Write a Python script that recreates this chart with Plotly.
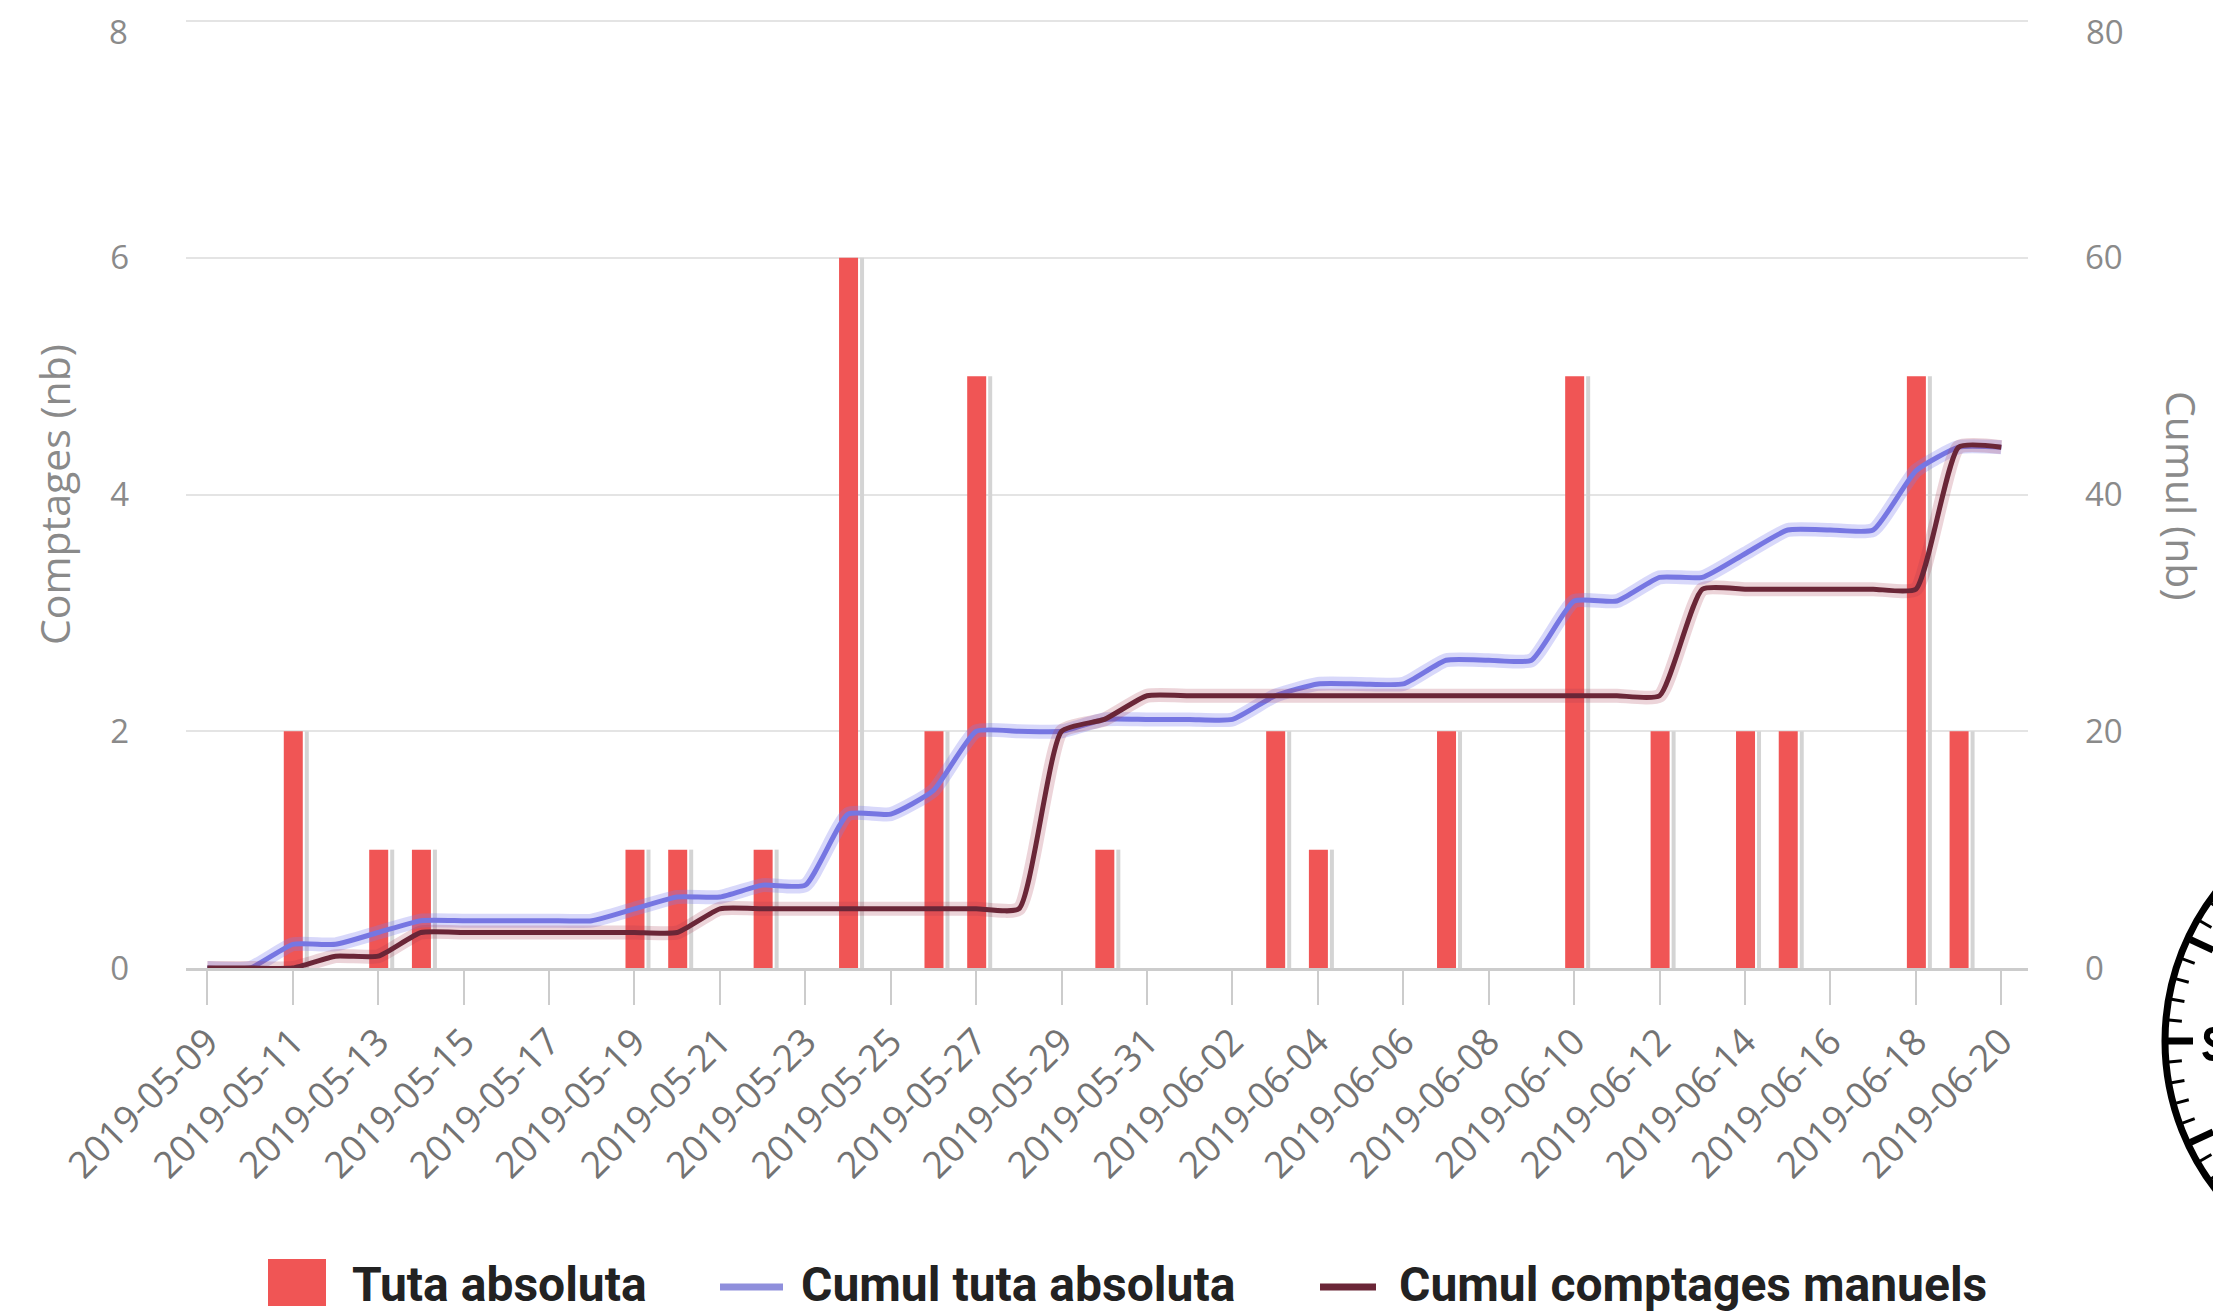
import math
import plotly.graph_objects as go

# ---- data ----
bar_dates = ['2019-05-11', '2019-05-13', '2019-05-14', '2019-05-19', '2019-05-20',
             '2019-05-22', '2019-05-24', '2019-05-26', '2019-05-27', '2019-05-30',
             '2019-06-03', '2019-06-04', '2019-06-07', '2019-06-10', '2019-06-12',
             '2019-06-14', '2019-06-15', '2019-06-18', '2019-06-19']
tuta_counts = [2, 1, 1, 1, 1, 1, 6, 2, 5, 1, 2, 1, 2, 5, 2, 2, 2, 5, 2]

day_dates = ['2019-05-09', '2019-05-10', '2019-05-11', '2019-05-12', '2019-05-13',
             '2019-05-14', '2019-05-15', '2019-05-16', '2019-05-17', '2019-05-18',
             '2019-05-19', '2019-05-20', '2019-05-21', '2019-05-22', '2019-05-23',
             '2019-05-24', '2019-05-25', '2019-05-26', '2019-05-27', '2019-05-28',
             '2019-05-29', '2019-05-30', '2019-05-31', '2019-06-01', '2019-06-02',
             '2019-06-03', '2019-06-04', '2019-06-05', '2019-06-06', '2019-06-07',
             '2019-06-08', '2019-06-09', '2019-06-10', '2019-06-11', '2019-06-12',
             '2019-06-13', '2019-06-14', '2019-06-15', '2019-06-16', '2019-06-17',
             '2019-06-18', '2019-06-19', '2019-06-20']
cumul_tuta = [0, 0, 2, 2, 3, 4, 4, 4, 4, 4,
              5, 6, 6, 7, 7, 13, 13, 15, 20, 20,
              20, 21, 21, 21, 21, 23, 24, 24, 24, 26,
              26, 26, 31, 31, 33, 33, 35, 37, 37, 37,
              42, 44, 44]
cumul_manuels = [0, 0, 0, 1, 1, 3, 3, 3, 3, 3,
                 3, 3, 5, 5, 5, 5, 5, 5, 5, 5,
                 20, 21, 23, 23, 23, 23, 23, 23, 23, 23,
                 23, 23, 23, 23, 23, 32, 32, 32, 32, 32,
                 32, 44, 44]

left_ticks = [0, 2, 4, 6, 8]
right_ticks = [0, 20, 40, 60, 80]
legend_labels = ['Tuta absoluta', 'Cumul tuta absoluta', 'Cumul comptages manuels']

# ---- geometry ----
W, H = 2213, 1312
L, R, T, B = 186, 2028, 17, 968
TOP_GRID = 21                      # pixel row of the highest gridline
PW, PH = R - L, B - T
Y_TOP = 8 * PH / (B - TOP_GRID)    # a little headroom so the top gridline is kept
X_RANGE = ['2019-05-08 12:00', '2019-06-20 15:00']
DAYS_SPAN = 43.125
MS_PER_PX = 86400000 / (PW / DAYS_SPAN)
LABEL_GAP = 56


def px(x):
    return (x - L) / PW


def py(y):
    return (B - y) / PH


RED = '#f05555'
BLUE = '#7676e2'
MAROON = '#6a2637'
TXT = '#8a8a8a'
TICK_FONT = dict(family='Open Sans', size=33, color=TXT)

fig = go.Figure()

# column shadow then the columns
fig.add_trace(go.Bar(
    x=bar_dates, y=tuta_counts, yaxis='y',
    width=4 * MS_PER_PX, offset=12 * MS_PER_PX,
    marker=dict(color='#d4d4d4', line=dict(width=0)),
    showlegend=False, hoverinfo='skip'))
fig.add_trace(go.Bar(
    x=bar_dates, y=tuta_counts, yaxis='y', name=legend_labels[0],
    width=19 * MS_PER_PX, offset=-9 * MS_PER_PX,
    marker=dict(color=RED, line=dict(width=0)),
    showlegend=False))

# cumulative curves with a soft halo
for vals, col, halo, name in [
        (cumul_tuta, BLUE, 'rgba(125,125,240,0.30)', legend_labels[1]),
        (cumul_manuels, MAROON, 'rgba(170,60,80,0.22)', legend_labels[2])]:
    fig.add_trace(go.Scatter(
        x=day_dates, y=vals, yaxis='y2', mode='lines',
        line=dict(color=halo, width=14, shape='spline', smoothing=0.5),
        showlegend=False, hoverinfo='skip'))
    fig.add_trace(go.Scatter(
        x=day_dates, y=vals, yaxis='y2', mode='lines', name=name,
        line=dict(color=col, width=5, shape='spline', smoothing=0.5),
        showlegend=False))

shapes = []
annotations = []

# the topmost tick labels sit a little below their gridline to stay inside the page
annotations.append(dict(
    xref='paper', yref='paper', x=px(L - LABEL_GAP), y=py(TOP_GRID + 10),
    text=str(left_ticks[-1]), showarrow=False, xanchor='right', yanchor='middle',
    font=TICK_FONT))
annotations.append(dict(
    xref='paper', yref='paper', x=px(R + LABEL_GAP), y=py(TOP_GRID + 10),
    text=str(right_ticks[-1]), showarrow=False, xanchor='left', yanchor='middle',
    font=TICK_FONT))

# axis titles
annotations.append(dict(
    xref='paper', yref='paper', x=px(54), y=py(495), text='Comptages (nb)',
    textangle=-90, showarrow=False, xanchor='center', yanchor='middle',
    font=dict(family='Open Sans', size=41, color=TXT)))
annotations.append(dict(
    xref='paper', yref='paper', x=px(2182), y=py(495), text='Cumul (nb)',
    textangle=90, showarrow=False, xanchor='center', yanchor='middle',
    font=dict(family='Open Sans', size=41, color=TXT)))

# legend
LEG_Y = 1284
LEG_FONT = dict(family='Roboto', size=48, color='#222222', weight=700)
shapes.append(dict(type='rect', xref='paper', yref='paper',
                   x0=px(268), x1=px(326), y0=py(1259), y1=py(1306),
                   fillcolor=RED, line=dict(width=0)))
annotations.append(dict(xref='paper', yref='paper', x=px(350), y=py(LEG_Y),
                        text=legend_labels[0], showarrow=False,
                        xanchor='left', yanchor='middle', font=LEG_FONT))
shapes.append(dict(type='line', xref='paper', yref='paper',
                   x0=px(720), x1=px(783), y0=py(1287), y1=py(1287),
                   line=dict(color='#8f8fdc', width=7)))
annotations.append(dict(xref='paper', yref='paper', x=px(799), y=py(LEG_Y),
                        text=legend_labels[1], showarrow=False,
                        xanchor='left', yanchor='middle', font=LEG_FONT))
shapes.append(dict(type='line', xref='paper', yref='paper',
                   x0=px(1320), x1=px(1376), y0=py(1287), y1=py(1287),
                   line=dict(color=MAROON, width=7)))
annotations.append(dict(xref='paper', yref='paper', x=px(1397), y=py(LEG_Y),
                        text=legend_labels[2], showarrow=False,
                        xanchor='left', yanchor='middle', font=LEG_FONT))

# stopwatch dial at the lower right corner
CX, CY, CR = 2408, 1041, 243
shapes.append(dict(type='circle', xref='paper', yref='paper',
                   x0=px(CX - CR), x1=px(CX + CR), y0=py(CY + CR), y1=py(CY - CR),
                   line=dict(color='black', width=7), fillcolor='rgba(0,0,0,0)'))
for k in range(-9, 10):
    ang = math.radians(5 * k)
    major = (k % 5 == 0)
    r0 = CR - 3
    r1 = CR - (28 if major else 16)
    x0 = CX - r0 * math.cos(ang)
    y0 = CY + r0 * math.sin(ang)
    x1 = CX - r1 * math.cos(ang)
    y1 = CY + r1 * math.sin(ang)
    shapes.append(dict(type='line', xref='paper', yref='paper',
                       x0=px(x0), x1=px(x1), y0=py(y0), y1=py(y1),
                       line=dict(color='black', width=7 if major else 3)))


# edge of the dial's lettering, drawn as a stroke path in pixel space
def pth(points):
    d = 'M %.5f %.5f' % (px(points[0][0]), py(points[0][1]))
    for (ax, ay), (bx, by) in zip(points[1::2], points[2::2]):
        d += ' Q %.5f %.5f %.5f %.5f' % (px(ax), py(ay), px(bx), py(by))
    return d


shapes.append(dict(type='path', xref='paper', yref='paper',
                   path=pth([(2216, 1030), (2206, 1029), (2207, 1038),
                             (2209, 1043), (2216, 1045)]),
                   line=dict(color='black', width=6)))
shapes.append(dict(type='path', xref='paper', yref='paper',
                   path=pth([(2205, 1052), (2207, 1059), (2216, 1058)]),
                   line=dict(color='black', width=6)))

fig.update_layout(
    width=W, height=H, autosize=False,
    margin=dict(l=L, r=W - R, t=T, b=H - B, pad=0, autoexpand=False),
    paper_bgcolor='white', plot_bgcolor='white',
    barmode='overlay', showlegend=False,
    shapes=shapes, annotations=annotations,
    xaxis=dict(
        type='date', range=X_RANGE, automargin=False,
        tick0='2019-05-09', dtick=2 * 86400000, tickformat='%Y-%m-%d',
        tickangle=-45, ticks='outside', ticklen=34, tickwidth=2, tickcolor='#cccccc',
        showline=True, linecolor='#cccccc', linewidth=3,
        showgrid=False, zeroline=False,
        tickfont=dict(family='Open Sans', size=37, color='#737373')),
    yaxis=dict(
        range=[0, Y_TOP], tickvals=left_ticks,
        ticktext=[str(v) for v in left_ticks[:-1]] + [''],
        showgrid=True, automargin=False,
        gridcolor='#e4e4e4', gridwidth=2, zeroline=False, showline=False,
        ticks='', ticklabelstandoff=LABEL_GAP, tickfont=TICK_FONT),
    yaxis2=dict(
        range=[0, Y_TOP * 10], tickvals=right_ticks,
        ticktext=[str(v) for v in right_ticks[:-1]] + [''],
        overlaying='y', side='right',
        showgrid=False, zeroline=False, showline=False, ticks='', automargin=False,
        ticklabelstandoff=LABEL_GAP, tickfont=TICK_FONT),
)

fig.write_html('out.html')
